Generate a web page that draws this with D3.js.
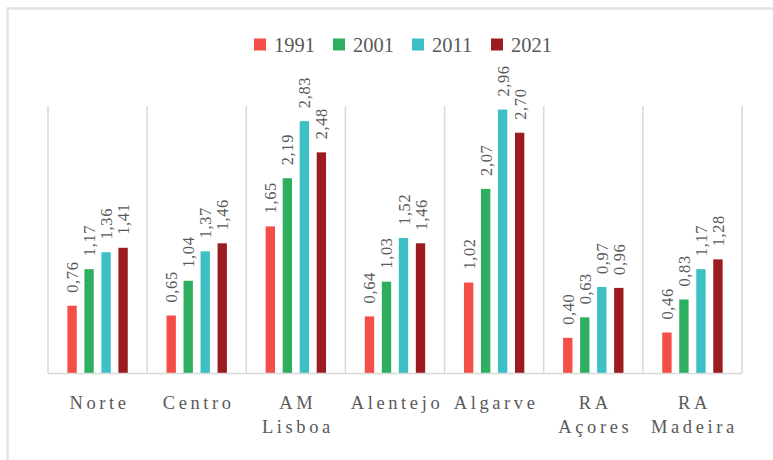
<!DOCTYPE html>
<html>
<head>
<meta charset="utf-8">
<script src="https://cdn.jsdelivr.net/npm/d3@7"></script>
<style>
  body { margin: 0; background: #fff; }
  svg { display: block; }
  text { font-family: "Liberation Serif", "DejaVu Serif", serif; fill: #595959; }
</style>
</head>
<body>
<div class="chart"></div>
<script>
/*
----------------------------------------------------------
                   the data
----------------------------------------------------------
*/
var regions = [["Norte"], ["Centro"], ["AM", "Lisboa"], ["Alentejo"], ["Algarve"], ["RA", "Açores"], ["RA", "Madeira"]];
var years = ["1991", "2001", "2011", "2021"];
var colors = ["#f34e47", "#2eaf60", "#3cc0c6", "#9c1b20"];

var v1991 = [0.76, 0.65, 1.65, 0.64, 1.02, 0.40, 0.46];
var v2001 = [1.17, 1.04, 2.19, 1.03, 2.07, 0.63, 0.83];
var v2011 = [1.36, 1.37, 2.83, 1.52, 2.96, 0.97, 1.17];
var v2021 = [1.41, 1.46, 2.48, 1.46, 2.70, 0.96, 1.28];
var series = [v1991, v2001, v2011, v2021];

/*
----------------------------------------------------------
                   the chart
----------------------------------------------------------
*/
var width = 773;
var height = 460;
var plot = { left: 48, right: 742, top: 106, bottom: 373.5 };

var svg = d3.select(".chart")
    .append("svg")
        .attr("width", width)
        .attr("height", height);

// outer frame (only top and left edges are in view)
svg.append("rect")
    .attr("x", 7.5).attr("y", 8.5)
    .attr("width", 900).attr("height", 600)
    .attr("fill", "none")
    .attr("stroke", "#e3e3e3")
    .attr("stroke-width", 2.5);

var x0 = d3.scaleBand()
    .domain(d3.range(regions.length))
    .range([plot.left, plot.right])
    .padding(0);

var x1 = d3.scaleBand()
    .domain(d3.range(years.length))
    .range([0, x0.bandwidth()])
    .paddingInner(0.45)
    .paddingOuter(1.14);

var y = d3.scaleLinear()
    .domain([0, 3])
    .range([plot.bottom, plot.top]);

// group separators
var seps = d3.range(regions.length + 1);
svg.append("g").selectAll("line").data(seps).enter()
    .append("line")
        .attr("x1", function(d) { return d == regions.length ? plot.right : x0(d); })
        .attr("x2", function(d) { return d == regions.length ? plot.right : x0(d); })
        .attr("y1", plot.top)
        .attr("y2", plot.bottom)
        .attr("stroke", "#d9d9d9")
        .attr("stroke-width", 1.5);

// bars
var cells = [];
series.forEach(function(vals, s) {
    vals.forEach(function(v, r) {
        cells.push({ s: s, r: r, v: v });
    });
});

svg.append("g").selectAll("rect").data(cells).enter()
    .append("rect")
        .attr("x", function(d) { return x0(d.r) + x1(d.s); })
        .attr("y", function(d) { return y(d.v); })
        .attr("width", x1.bandwidth())
        .attr("height", function(d) { return y(0) - y(d.v); })
        .attr("fill", function(d) { return colors[d.s]; });

// value labels, rotated
svg.append("g").selectAll("text").data(cells).enter()
    .append("text")
        .attr("transform", function(d) {
            var cx = x0(d.r) + x1(d.s) + x1.bandwidth() / 2 + 6;
            var cy = y(d.v) - 13;
            return "translate(" + cx + "," + cy + ") rotate(-90)";
        })
        .attr("font-size", 16.5)
        .attr("letter-spacing", 0.6)
        .text(function(d) { return d.v.toFixed(2).replace(".", ","); });

// baseline
svg.append("line")
    .attr("x1", plot.left).attr("x2", plot.right)
    .attr("y1", plot.bottom).attr("y2", plot.bottom)
    .attr("stroke", "#d9d9d9")
    .attr("stroke-width", 1.5);

// category labels
var cats = svg.append("g").selectAll("text").data(regions).enter()
    .append("text")
        .attr("text-anchor", "middle")
        .attr("font-size", 18.5)
        .attr("letter-spacing", 3.6);

cats.selectAll("tspan").data(function(d, i) { return d.map(function(t) { return { t: t, i: i }; }); }).enter()
    .append("tspan")
        .attr("x", function(d) { return x0(d.i) + x0.bandwidth() / 2 + 2; })
        .attr("y", function(d, k) { return 408.5 + k * 24.5; })
        .text(function(d) { return d.t; });

// legend
var legend = svg.append("g").selectAll("g").data(years).enter()
    .append("g")
        .attr("transform", function(d, i) { return "translate(" + (254 + i * 79) + ",38.5)"; });

legend.append("rect")
    .attr("width", 12).attr("height", 12)
    .attr("fill", function(d, i) { return colors[i]; });

legend.append("text")
    .attr("x", 20).attr("y", 13.5)
    .attr("font-size", 20.5)
    .text(function(d) { return d; });
</script>
</body>
</html>
